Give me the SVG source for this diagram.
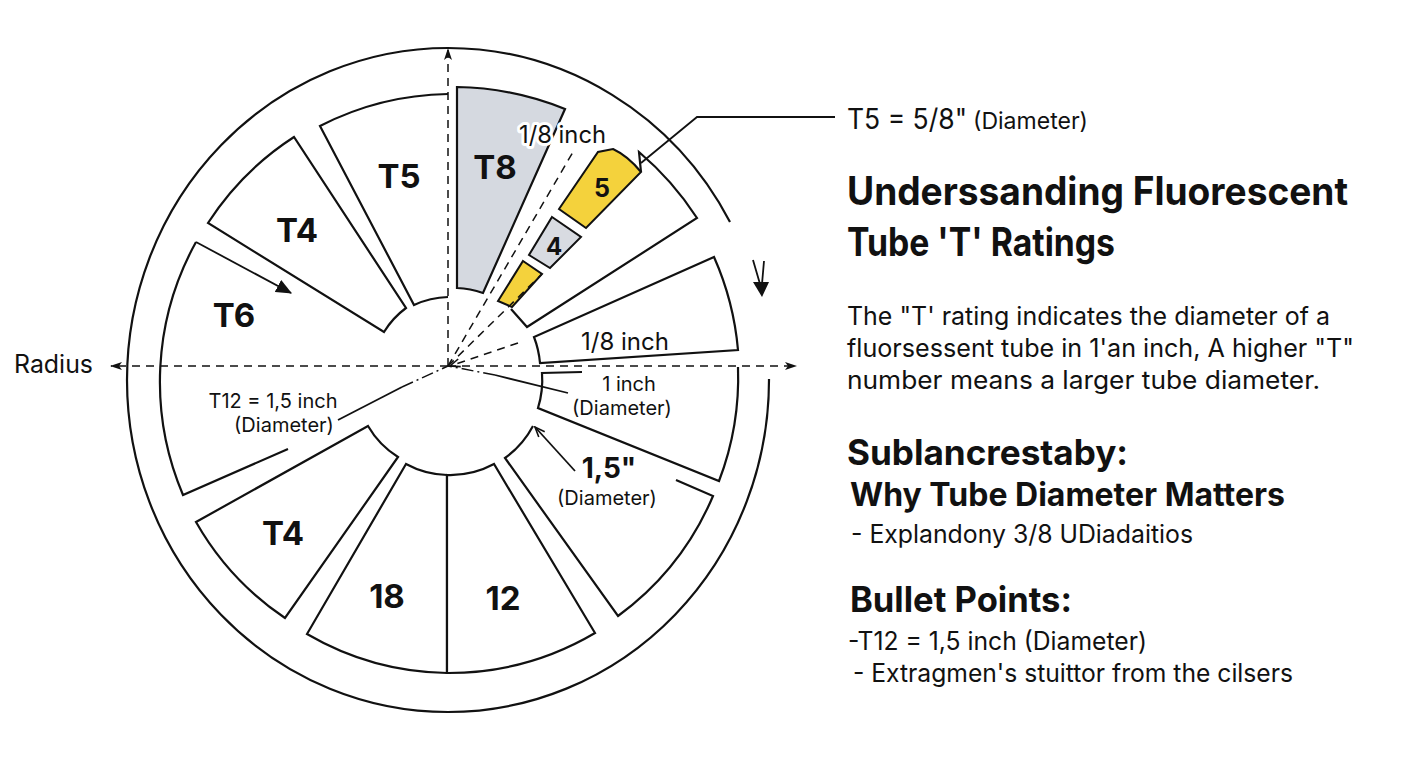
<svg xmlns="http://www.w3.org/2000/svg" width="1408" height="768" viewBox="0 0 1408 768">
<style>
.seg{fill:#fff;stroke:#111;stroke-width:2.2;stroke-linejoin:miter}
.open{fill:none;stroke:#111;stroke-width:2.2}
.ln{fill:none;stroke:#111;stroke-width:1.8}
.dash{fill:none;stroke:#111;stroke-width:1.5;stroke-dasharray:8 6}
.dd{fill:none;stroke:#111;stroke-width:1.5;stroke-dasharray:12 4 2 4}
text{font-family:Inter,"Liberation Sans",sans-serif;fill:#111}
.big{font-weight:700;font-size:33px;text-anchor:middle}
.sm{font-size:20px;text-anchor:middle}
.halo{paint-order:stroke;stroke:#fff;stroke-width:6px;stroke-linejoin:round}
.h1{font-weight:700;font-size:39px}
.h2{font-weight:700;font-size:35px}
.h3{font-weight:700;font-size:32px}
.body{font-size:25px}
</style>
<defs>
<marker id="axisArrow" viewBox="0 0 12 8" refX="11" refY="4" markerWidth="12" markerHeight="8" orient="auto" markerUnits="userSpaceOnUse"><path d="M0,0 L12,4 L0,8 L3,4 Z" fill="#111"/></marker>
<marker id="solidArrow" viewBox="0 0 14 12" refX="13" refY="6" markerWidth="16" markerHeight="14" orient="auto" markerUnits="userSpaceOnUse"><path d="M0,0 L14,6 L0,12 Z" fill="#111"/></marker>
<marker id="openArrow" viewBox="0 0 12 10" refX="11" refY="5" markerWidth="12" markerHeight="10" orient="auto" markerUnits="userSpaceOnUse"><path d="M1,1 L11,5 L1,9" fill="none" stroke="#111" stroke-width="1.6"/></marker>
</defs>

<g id="outer-ring">
<path class="open" d="M769,379 A321,332 0 0,1 448,712 A321,332 0 0,1 127,380 A321,332 0 0,1 448,48 A321,332 0 0,1 730,222"/>
</g>

<g id="seg-T8">
<path d="M457,87 A298,298 0 0,1 565,109 L483,293 A97,97 0 0,0 457,288 Z" fill="#d5d9e0" stroke="#111" stroke-width="2.2"/>
<text class="big" x="495" y="179">T8</text>
</g>
<g id="seg-T5">
<path class="open" d="M448,94 A290,290 0 0,0 320,126 L414,305 A87,87 0 0,1 448,297"/>
<text class="big" x="399" y="188">T5</text>
</g>
<g id="seg-T4-upper">
<path class="seg" d="M208,223 A289,289 0 0,1 294,137 L406,308 A85,85 0 0,0 384,332 Z"/>
<text class="big" x="297" y="242">T4</text>
</g>
<g id="seg-T6">
<path class="open" d="M196,242 A289,289 0 0,0 183,495 L288,449"/>
<text class="big" x="234" y="327">T6</text>
</g>
<g id="seg-T4-lower">
<path class="seg" d="M196,522 L368,426 A90,90 0 0,0 398,457 L285,618 A287,287 0 0,1 196,522 Z"/>
<text class="big" x="283" y="545">T4</text>
</g>
<g id="seg-18">
<path class="seg" d="M406,464 L307,634 A287,287 0 0,0 447,673 L447,475 A91,91 0 0,1 406,464 Z"/>
<text class="big" x="387" y="608">18</text>
</g>
<g id="seg-12">
<path class="seg" d="M447,475 L447,673 A289,289 0 0,0 595,633 L494,464 A92,92 0 0,1 447,475 Z"/>
<text class="big" x="503" y="610">12</text>
</g>
<g id="seg-15">
<path class="open" d="M676,480 L713,496 A288,288 0 0,1 618,616 L505,458 A93,93 0 0,0 533,426"/>
<text x="609" y="478" font-weight="700" font-size="28" text-anchor="middle">1,5"</text>
<text class="sm" x="607" y="505">(Diameter)</text>
</g>
<g id="seg-1inch">
<path class="open" d="M582,372 L542,373 A94,94 0 0,1 538,408 L719,481 A289,289 0 0,0 738,367"/>
<text class="sm" x="629" y="391">1 inch</text>
<text class="sm" x="622" y="415">(Diameter)</text>
</g>
<g id="seg-eighth-lower">
<path class="seg" d="M714,257 L534,337 A96,96 0 0,1 540,363 L738,350 A292,292 0 0,0 714,257 Z"/>
<text x="625" y="350" font-size="24" text-anchor="middle">1/8 inch</text>
</g>
<g id="seg-upper-right">
<path class="open" d="M641,172 L639,152 A300,300 0 0,1 697,218 L527,327 L511,309"/>
</g>
<g id="piece-5">
<path d="M559,209 L598,152 L613,149 Q628,156 641,172 L586,228 Z" fill="#f4d23c" stroke="#111" stroke-width="2"/>
<text x="602" y="197" font-weight="700" font-size="25" text-anchor="middle">5</text>
</g>
<g id="piece-4">
<path d="M552,217 L581,237 L550,268 L529,255 Z" fill="#d8dbe1" stroke="#111" stroke-width="2"/>
<text x="554" y="255" font-weight="700" font-size="24" text-anchor="middle">4</text>
</g>
<g id="piece-small">
<path d="M523,261 L542,274 L512,307 L498,301 Z" fill="#f4d23c" stroke="#111" stroke-width="2"/>
</g>

<g id="connectors">
<line class="dash" x1="448" y1="366" x2="448" y2="49" marker-end="url(#axisArrow)"/>
<line class="dash" x1="448" y1="366" x2="111" y2="366" marker-end="url(#axisArrow)"/>
<line class="dash" x1="448" y1="366" x2="796" y2="366" marker-end="url(#axisArrow)"/>
<line class="dash" x1="448" y1="366" x2="573" y2="152"/>
<line class="dash" x1="448" y1="366" x2="542" y2="274"/>
<line class="dash" x1="518" y1="343" x2="450" y2="366" marker-end="url(#openArrow)"/>
<line class="dd" x1="402" y1="387" x2="448" y2="366"/>
<line class="ln" x1="338" y1="420" x2="402" y2="387"/>
<line class="dd" x1="495" y1="375" x2="448" y2="366"/>
<line class="ln" x1="568" y1="393" x2="495" y2="375"/>
<line class="ln" x1="196" y1="242" x2="291" y2="293" stroke-width="2.2" marker-end="url(#solidArrow)"/>
<line class="ln" x1="575" y1="471" x2="535" y2="427" marker-end="url(#openArrow)"/>
<polyline class="ln" points="641,163 697,117 835,117"/>
<path class="ln" d="M753,260 L760,284 M764,261 L762,284"/>
<path d="M753,282 L769,282 L762,297 Z" fill="#111"/>
</g>

<g id="labels">
<text class="halo" x="519" y="143" font-size="24" textLength="87" lengthAdjust="spacingAndGlyphs">1/8 inch</text>
<text x="14" y="373" font-size="25" textLength="79" lengthAdjust="spacingAndGlyphs">Radius</text>
<text class="sm halo" x="273" y="408">T12 = 1,5 inch</text>
<text class="sm halo" x="284" y="432">(Diameter)</text>
</g>

<g id="text-panel">
<text x="847" y="129" font-size="28" textLength="120" lengthAdjust="spacingAndGlyphs">T5 = 5/8"</text>
<text x="973" y="129" font-size="23" textLength="115" lengthAdjust="spacingAndGlyphs">(Diameter)</text>
<text class="h1" x="847" y="205" textLength="501" lengthAdjust="spacingAndGlyphs">Underssanding Fluorescent</text>
<text class="h1" x="847" y="256" textLength="268" lengthAdjust="spacingAndGlyphs">Tube 'T' Ratings</text>
<text class="body" x="847" y="325" textLength="483" lengthAdjust="spacingAndGlyphs">The "T' rating indicates the diameter of a</text>
<text class="body" x="847" y="357" textLength="507" lengthAdjust="spacingAndGlyphs">fluorsessent tube in 1'an inch, A higher "T"</text>
<text class="body" x="847" y="389" textLength="473" lengthAdjust="spacingAndGlyphs">number means a larger tube diameter.</text>
<text class="h2" x="847" y="465" textLength="281" lengthAdjust="spacingAndGlyphs">Sublancrestaby:</text>
<text class="h3" x="850" y="506" textLength="435" lengthAdjust="spacingAndGlyphs">Why Tube Diameter Matters</text>
<text class="body" x="851" y="543" textLength="342" lengthAdjust="spacingAndGlyphs">- Explandony 3/8 UDiadaitios</text>
<text class="h2" x="850" y="612" textLength="222" lengthAdjust="spacingAndGlyphs">Bullet Points:</text>
<text class="body" x="848" y="650" textLength="299" lengthAdjust="spacingAndGlyphs">-T12 = 1,5 inch (Diameter)</text>
<text class="body" x="853" y="682" textLength="440" lengthAdjust="spacingAndGlyphs">- Extragmen's stuittor from the cilsers</text>
</g>
</svg>
